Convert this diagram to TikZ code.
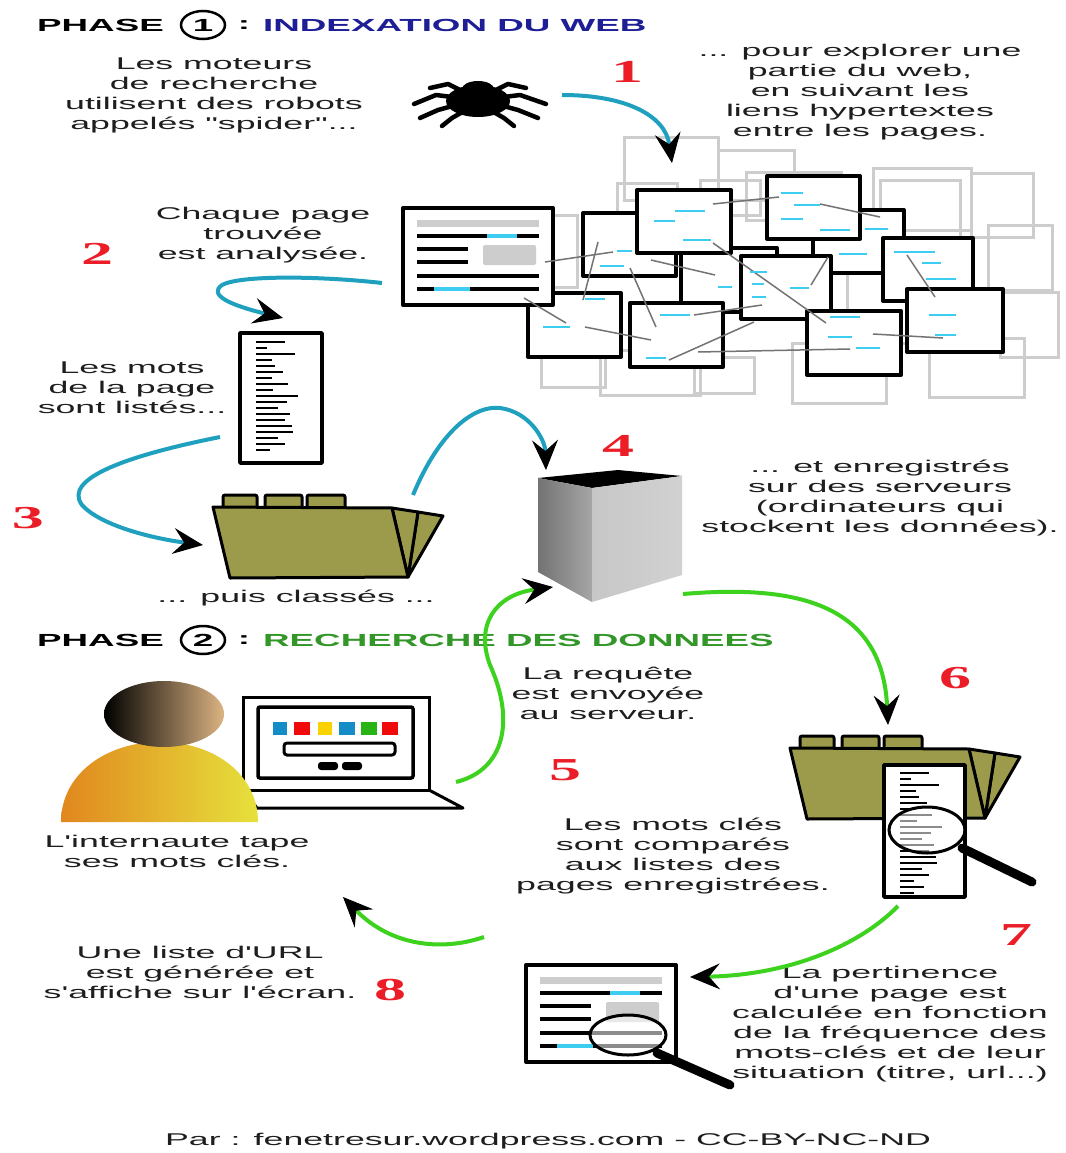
\documentclass[tikz,border=0pt]{standalone}
\usepackage{fontspec}
\setmainfont{Liberation Sans}[FakeStretch=2.1,Ligatures=TeXOff]
\newfontfamily\numfont{Liberation Serif}[FakeStretch=2.0]
\usetikzlibrary{arrows.meta,shapes.geometric}

\definecolor{txtgray}{RGB}{30,30,30}
\definecolor{numred}{RGB}{235,30,40}
\definecolor{navy}{RGB}{30,30,150}
\definecolor{phasegreen}{RGB}{50,150,40}
\definecolor{tealline}{RGB}{30,160,190}
\definecolor{greenline}{RGB}{60,210,30}
\definecolor{cyanmark}{RGB}{60,205,240}
\definecolor{olive}{RGB}{155,155,75}
\definecolor{ghostgray}{RGB}{205,205,205}
\definecolor{skin}{RGB}{220,180,130}
\definecolor{shirtL}{RGB}{225,135,30}
\definecolor{shirtR}{RGB}{230,225,60}
\definecolor{keyblue}{RGB}{20,140,200}
\definecolor{keyred}{RGB}{240,10,10}
\definecolor{keyyellow}{RGB}{250,210,0}
\definecolor{keygreen}{RGB}{40,180,20}

\tikzset{
  txt/.style={align=center,text=txtgray,inner sep=0pt,font=\fontsize{17}{20}\selectfont},
  num/.style={text=numred,inner sep=0pt,font=\numfont\bfseries\fontsize{32}{32}\selectfont},
  phase/.style={inner sep=0pt,font=\fontsize{17.5}{20}\selectfont\bfseries},
  bigtip/.style={-{Stealth[color=black,line width=1pt,length=30pt,width=26pt,inset=11pt]}},
  tealarrow/.style={draw=tealline,line width=4pt,bigtip},
  greenarrow/.style={draw=greenline,line width=4pt,bigtip},
  page/.style={draw=black,line width=4pt,fill=white,line join=round},
  ghost/.style={draw=ghostgray,line width=3pt},
  link/.style={draw=black!55,line width=1.5pt},
  cyandash/.style={draw=cyanmark,line width=2pt},
  listline/.style={draw=black,line width=2pt},
  folderpart/.style={fill=olive,draw=black,line width=3pt,line join=round}
}

% page with a title bar, text lines and a picture
\newcommand{\webpage}[2]{%
  \begin{scope}[shift={(#1,#2)}]
    \draw[page] (0,0) rectangle (150,97);
    \draw[ghostgray,line width=7pt] (14,15) -- (136,15);
    \draw[line width=3.5pt] (14,28) -- (136,28) (14,41) -- (65,41) (14,54) -- (65,54)
      (14,68) -- (136,68) (14,81) -- (136,81);
    \draw[cyanmark,line width=3.5pt] (84,28) -- (114,28) (31,81) -- (67,81);
    \fill[ghostgray,rounded corners=2pt] (80,37) rectangle (133,57);
  \end{scope}}

% folder with three tabs and two sheets behind
\newcommand{\folder}[2]{%
  \begin{scope}[shift={(#1,#2)}]
    \draw[folderpart] (205,5) -- (230,9) -- (195,70) -- cycle;
    \draw[folderpart] (179,1) -- (205,5) -- (195,70) -- cycle;
    \draw[folderpart,rounded corners=2pt] (10,0) -- (10,-12) -- (44,-12) -- (44,0);
    \draw[folderpart,rounded corners=2pt] (52,0) -- (52,-12) -- (89,-12) -- (89,0);
    \draw[folderpart,rounded corners=2pt] (94,0) -- (94,-12) -- (132,-12) -- (132,0);
    \draw[folderpart] (0,0) -- (179,1) -- (195,70) -- (17,71) -- cycle;
  \end{scope}}

\newcommand{\wordlines}{%
  \foreach \e [count=\i from 0] in {285,267,295,272,275,283,272,288,273,298,287,278,290,285,292,293,278,285,270}
    \draw[listline] (256,{342+6*\i}) -- (\e,{342+6*\i});}

\begin{document}
\begin{tikzpicture}[x=1pt,y=-1pt]
\fill[white] (0,0) rectangle (1065,1153);
\useasboundingbox (0,0) rectangle (1065,1153);

% ---- phase 1 ----
\node[phase,anchor=west] (p1) at (37,25) {PHASE};
\node[phase,draw,ellipse,minimum width=44pt,minimum height=28pt,line width=2.5pt] (c1) at (203,25) {1};
\node[phase] (d1) at (244,25) {:};
\node[phase,anchor=west,text=navy] (h1) at (263,25) {INDEXATION DU WEB};

\node[txt] (t1) at (214,95) {Les moteurs\\de recherche\\utilisent des robots\\appelés "spider"...};
\node[txt] (t2) at (860,92) {... pour explorer une\\partie du web,\\en suivant les\\liens hypertextes\\entre les pages.};
\node[txt] (t3) at (263,235) {Chaque page\\trouvée\\est analysée.};
\node[txt] (t4) at (132,388) {Les mots\\de la page\\sont listés...};
\node[txt] (t5) at (296,598) {... puis classés ...};
\node[txt] (t6) at (880,498) {... et enregistrés\\sur des serveurs\\(ordinateurs qui\\stockent les données).};

\node[num] (n1) at (627,72) {1};
\node[num] (n2) at (97,254) {2};
\node[num] (n3) at (28,518) {3};
\node[num] (n4) at (618,446) {4};

% spider
\begin{scope}[line width=4.5pt,line cap=round,line join=round]
  \draw (466,93) -- (448,84) -- (430,88);
  \draw (460,98) -- (436,95) -- (414,104);
  \draw (460,104) -- (438,110) -- (420,118);
  \draw (466,110) -- (452,118) -- (442,126);
  \draw (490,93) -- (508,84) -- (526,88);
  \draw (496,98) -- (520,95) -- (546,104);
  \draw (496,104) -- (518,110) -- (538,118);
  \draw (490,110) -- (504,118) -- (514,126);
\end{scope}
\fill (478,101) ellipse [x radius=32, y radius=16];
\fill (478,89) ellipse [x radius=16, y radius=8];

% pages of the web, grey ones behind
\foreach \a/\b/\c/\d in {624/137/718/200, 718/150/794/200, 746/172/841/220, 873/168/971/230,
    971/173/1033/237, 988/225/1052/290, 1000/292/1058/357, 929/338/1024/397, 792/343/886/403,
    694/357/754/393, 541/353/605/387, 617/183/677/215, 553/215/577/287, 847/273/929/343,
    600/350/700/395, 700/180/760/215, 880/180/960/240}
  \draw[ghost] (\a,\b) rectangle (\c,\d);

\foreach \a/\b/\c/\d in {681/248/777/312, 583/213/676/276, 813/210/904/273, 741/256/831/319,
    637/190/731/253, 767/176/860/239, 883/238/973/301, 528/293/621/357, 630/303/723/367,
    807/311/901/375, 907/289/1003/352}
  \draw[page] (\a,\b) rectangle (\c,\d);

\webpage{403}{208}

\foreach \a/\b/\c/\d in {713/204/779/197, 820/204/880/217, 545/262/613/252, 598/242/583/300,
    651/260/715/275, 630/268/656/327, 713/243/826/323, 828/257/811/285, 907/255/935/297,
    873/334/943/338, 524/298/566/323, 585/327/651/340, 694/315/762/305, 669/360/754/322,
    698/352/850/349}
  \draw[link] (\a,\b) -- (\c,\d);

\foreach \a/\c/\y in {675/705/211, 654/675/221, 683/711/240, 781/803/193, 794/820/205,
    781/803/219, 820/850/230, 865/888/229, 839/867/254, 617/632/251, 600/624/266,
    750/767/272, 752/764/284, 718/732/287, 752/766/297, 790/809/288, 894/935/252,
    922/941/263, 926/956/279, 929/956/315, 935/956/335, 543/570/327, 585/605/299,
    660/690/315, 646/666/358, 830/860/317, 828/852/337, 856/880/348}
  \draw[cyandash] (\a,\y) -- (\c,\y);

% list of words
\draw[page,line width=3.5pt] (240,333) rectangle (322,463);
\wordlines

% first folder
\folder{213}{507}

% server
\fill (538,478) -- (618,470) -- (682,476) -- (592,488) -- cycle;
\shade[left color=black!55,right color=black!35] (538,478) -- (592,488) -- (592,602) -- (538,572) -- cycle;
\shade[left color=black!22,right color=black!18] (592,488) -- (682,476) -- (682,575) -- (592,602) -- cycle;

% arrows of phase 1
\coordinate (s1) at (562,95);   \coordinate (e1) at (672,163);
\coordinate (s2) at (382,283);  \coordinate (e2) at (283,318);
\coordinate (s3) at (220,437);  \coordinate (e3) at (203,545);
\coordinate (s4) at (413,495);  \coordinate (e4) at (546,470);
\draw[tealarrow] (s1) .. controls (625,95) and (665,115) .. (e1);
\draw[tealarrow] (s2) .. controls (320,276) and (240,275) .. (222,285) .. controls (208,295) and (230,305) .. (e2);
\draw[tealarrow] (s3) .. controls (130,455) and (62,478) .. (82,505) .. controls (100,525) and (150,538) .. (e3);
\draw[tealarrow] (s4) .. controls (440,430) and (475,405) .. (500,408) .. controls (530,412) and (545,440) .. (e4);

% ---- phase 2 ----
\node[phase,anchor=west] (p2) at (37,640) {PHASE};
\node[phase,draw,ellipse,minimum width=44pt,minimum height=28pt,line width=2.5pt] (c2) at (203,640) {2};
\node[phase] (d2) at (244,640) {:};
\node[phase,anchor=west,text=phasegreen] (h2) at (263,640) {RECHERCHE DES DONNEES};

\node[txt] (t7) at (608,693) {La requête\\est envoyée\\au serveur.};
\node[txt] (t8) at (177,851) {L'internaute tape\\ses mots clés.};
\node[txt] (t9) at (673,856) {Les mots clés\\sont comparés\\aux listes des\\pages enregistrées.};
\node[txt] (t10) at (200,972) {Une liste d'URL\\est générée et\\s'affiche sur l'écran.};
\node[txt] (t11) at (890,1024) {La pertinence\\d'une page est\\calculée en fonction\\de la fréquence des\\mots-clés et de leur\\situation (titre, url...)};
\node[txt] (foot) at (548,1141) {Par : fenetresur.wordpress.com - CC-BY-NC-ND};

\node[num] (n5) at (565,770) {5};
\node[num] (n6) at (955,678) {6};
\node[num] (n7) at (1016,935) {7};
\node[num] (n8) at (390,990) {8};

% laptop
\draw[fill=white,line width=3pt,line join=round] (243,790) -- (429,790) -- (463,808) -- (257,808) -- cycle;
\draw[fill=white,line width=3pt] (243,697) rectangle (429,790);
\draw[line width=3.5pt,rounded corners=2pt] (258,707) rectangle (413,778);
\foreach \a/\c/\col in {273/287/keyblue, 294/310/keyred, 318/332/keyyellow,
    339/355/keyblue, 361/377/keygreen, 382/398/keyred}
  \fill[\col] (\a,722) rectangle (\c,735);
\draw[line width=3pt,rounded corners=3pt] (284,743) rectangle (395,755);
\fill[rounded corners=3pt] (318,762) rectangle (338,770) (342,762) rectangle (362,770);

% user
\shade[left color=shirtL,right color=shirtR]
  (61,822) .. controls (61,775) and (105,742) .. (160,742) .. controls (215,742) and (258,775) .. (258,822) -- cycle;
\shade[left color=black,right color=skin] (164,714) ellipse [x radius=60, y radius=33];

% second folder with a list and a lens
\folder{790}{748}
\draw[page,line width=3.5pt] (884,765) rectangle (965,897);
\begin{scope}[shift={(644,431)}]
  \wordlines
  \draw[listline] (256,456) -- (280,456);
  \draw[listline] (256,462) -- (270,462);
\end{scope}
\draw[line width=9pt,line cap=round] (962,848) -- (1032,882);
\draw[line width=3pt,fill=white,fill opacity=0.55] (927,830) ellipse [x radius=38, y radius=23];

% result page with a lens
\webpage{526}{965}
\draw[line width=9pt,line cap=round] (657,1053) -- (730,1085);
\draw[line width=3pt,fill=white,fill opacity=0.55] (628,1035) ellipse [x radius=38, y radius=20];

% arrows of phase 2
\coordinate (s5) at (456,782);  \coordinate (e5) at (553,587);
\coordinate (s6) at (683,594);  \coordinate (e6) at (888,725);
\coordinate (s7) at (898,906);  \coordinate (e7) at (690,977);
\coordinate (s8) at (484,937);  \coordinate (e8) at (343,897);
\draw[greenarrow] (s5) .. controls (505,770) and (515,720) .. (490,665) .. controls (475,625) and (495,595) .. (e5);
\draw[greenarrow] (s6) .. controls (790,585) and (882,600) .. (e6);
\draw[greenarrow] (s7) .. controls (860,945) and (790,975) .. (e7);
\draw[greenarrow] (s8) .. controls (440,952) and (390,945) .. (e8);
\end{tikzpicture}
\end{document}
